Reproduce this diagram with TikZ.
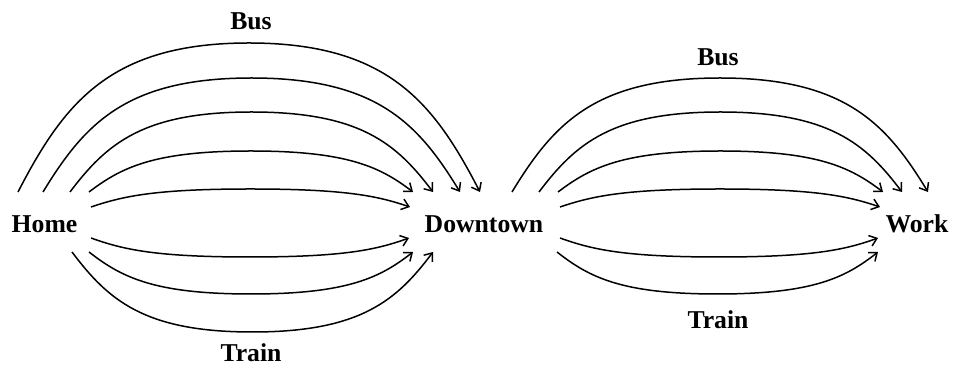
\documentclass[tikz,border=0pt]{standalone}
\usepackage{fontspec}
\setmainfont{Liberation Serif}
\usetikzlibrary{calc,arrows.meta}

\begin{document}
\begin{tikzpicture}[x=1pt,y=1pt,
                    place/.style={font=\fontsize{25.7}{30}\selectfont\bfseries, inner sep=0pt},
                    mode/.style={place},
                    route/.style={line width=1.5pt, -{Straight Barb[length=7pt,width=11pt]}}]
                      \useasboundingbox (0,0) rectangle (954,366);
                      \node[place] (home) at (44.5,142) {Home};
                      \node[place] (downtown) at (484,142) {Downtown};
                      \node[place] (work) at (917,142) {Work};
                      \node[mode] (bus1) at (251,345) {Bus};
                      \node[mode] (train1) at (251,13) {Train};
                      \node[mode] (bus2) at (718,308.5) {Bus};
                      \node[mode] (train2) at (718,46) {Train};
                      % home to downtown
                      \foreach \sx/\ex/\dy/\h in {-26.5/-4/32/149, -1.5/-24/32/114, 25.5/-51/32/80,
                                                  44.5/-71/32/41, 46.5/-74/17/18, 46.5/-75/-14/-19,
                                                  44.5/-71/-28/-42, 27.5/-51/-28/-80}
                      \draw[route] let \p1=([shift={(\sx,\dy)}]home.center),
                                       \p2=([shift={(\ex,\dy)}]downtown.center),
                                       \n1={(\x2-\x1)/2} in
                          (\p1) .. controls +(0.2*\n1,0.6*\h) and +(-0.6*\n1,0) .. ($(\p1)+(\n1,\h)$)
                                .. controls +(0.6*\n1,0) and +(-0.2*\n1,0.6*\h) .. (\p2);
                      % downtown to work
                      \foreach \sx/\ex/\dy/\h in {28/11/32/114, 55/-15/32/80, 74/-34/32/41,
                                                  76/-37/17/18, 76/-39/-14/-19, 73/-39/-28/-42}
                      \draw[route] let \p1=([shift={(\sx,\dy)}]downtown.center),
                                       \p2=([shift={(\ex,\dy)}]work.center),
                                       \n1={(\x2-\x1)/2} in
                          (\p1) .. controls +(0.2*\n1,0.6*\h) and +(-0.6*\n1,0) .. ($(\p1)+(\n1,\h)$)
                                .. controls +(0.6*\n1,0) and +(-0.2*\n1,0.6*\h) .. (\p2);
                  \end{tikzpicture}
\end{document}
